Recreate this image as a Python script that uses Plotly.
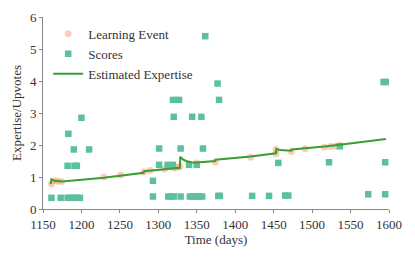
import plotly.graph_objects as go

# Learning events
learn_x = [1161, 1165, 1169, 1174, 1229, 1251, 1281, 1289, 1308, 1320, 1325, 1328,
           1350, 1374, 1420, 1453, 1453, 1473, 1491, 1516, 1524, 1531, 1536]
learn_y = [0.78, 0.88, 0.87, 0.86, 1.00, 1.06, 1.16, 1.20, 1.25, 1.28, 1.30, 1.33,
           1.44, 1.47, 1.62, 1.73, 1.86, 1.80, 1.88, 1.93, 1.95, 1.97, 1.99]

# Scores
score_x = [1161, 1173, 1182, 1186, 1190, 1194, 1198,
           1182, 1191, 1194, 1190, 1210, 1183, 1200,
           1293, 1313, 1317, 1320, 1329, 1341, 1345, 1349, 1353, 1357, 1378,
           1293, 1301, 1312, 1319, 1340, 1350,
           1301, 1329, 1358,
           1320, 1344, 1356,
           1319, 1327, 1379, 1377, 1361,
           1380, 1422, 1444, 1465, 1469, 1456,
           1522, 1536, 1573, 1593, 1596, 1595, 1595]
score_y = [0.35, 0.35, 0.35, 0.35, 0.35, 0.35, 0.35,
           1.35, 1.35, 1.35, 1.86, 1.86, 2.35, 2.85,
           0.39, 0.39, 0.39, 0.39, 0.39, 0.39, 0.39, 0.39, 0.39, 0.39, 0.41,
           0.88, 1.38, 1.38, 1.38, 1.38, 1.38,
           1.89, 1.89, 1.89,
           2.88, 2.88, 2.88,
           3.41, 3.41, 3.41, 3.92, 5.40,
           0.41, 0.41, 0.41, 0.42, 0.42, 1.44,
           1.46, 1.96, 0.46, 3.97, 3.97, 1.46, 0.46]

# Estimated expertise curve
est_x = [1160, 1161, 1165, 1170, 1175, 1229, 1251, 1281, 1281.5, 1289, 1308, 1320, 1328,
         1328.5, 1332, 1336, 1340, 1345, 1350, 1374, 1374.5, 1420, 1453, 1453.5,
         1458, 1465, 1473, 1473.5, 1491, 1516, 1536, 1560, 1596]
est_y = [0.78, 0.93, 0.88, 0.86, 0.86, 0.98, 1.04, 1.13, 1.18, 1.20, 1.24, 1.27, 1.29,
         1.63, 1.55, 1.50, 1.47, 1.45, 1.45, 1.50, 1.54, 1.64, 1.74, 1.88,
         1.84, 1.82, 1.82, 1.86, 1.89, 1.95, 2.01, 2.08, 2.19]

FONT = "Liberation Serif"
fig = go.Figure()
fig.add_trace(go.Scatter(x=learn_x, y=learn_y, mode="markers", name="Learning Event",
                         marker=dict(color="#fc8d62", opacity=0.45, size=7, symbol="circle")))
fig.add_trace(go.Scatter(x=score_x, y=score_y, mode="markers", name="Scores",
                         marker=dict(color="#5cc09e", size=6.5, symbol="square",
                                     line=dict(width=0))))
fig.add_trace(go.Scatter(x=est_x, y=est_y, mode="lines", name="Estimated Expertise",
                         line=dict(color="#3a9e32", width=2)))

axis_common = dict(showline=True, linecolor="#888888", linewidth=1, ticks="outside",
                   ticklen=3, tickcolor="#888888", showgrid=False, zeroline=False,
                   automargin=False,
                   tickfont=dict(family=FONT, size=13, color="#333333"))
fig.update_layout(
    width=407, height=249,
    margin=dict(l=35, r=26, t=9, b=48),
    paper_bgcolor="white", plot_bgcolor="white",
    font=dict(family=FONT, color="#333333"),
    showlegend=True,
    legend=dict(x=0.015, y=0.99, xanchor="left", yanchor="top",
                font=dict(family=FONT, size=13, color="#333333"),
                bgcolor="rgba(0,0,0,0)", tracegroupgap=0, itemwidth=30),
    xaxis=dict(range=[1150, 1600], tickvals=[1150, 1200, 1250, 1300, 1350, 1400, 1450, 1500, 1550, 1600],
               title=dict(text="Time (days)", font=dict(family=FONT, size=13), standoff=2),
               **axis_common),
    yaxis=dict(range=[0, 6], tickvals=[0, 1, 2, 3, 4, 5, 6],
               title=dict(text="Expertise/Upvotes", font=dict(family=FONT, size=13), standoff=5),
               **axis_common),
)
fig.write_html("out.html")
